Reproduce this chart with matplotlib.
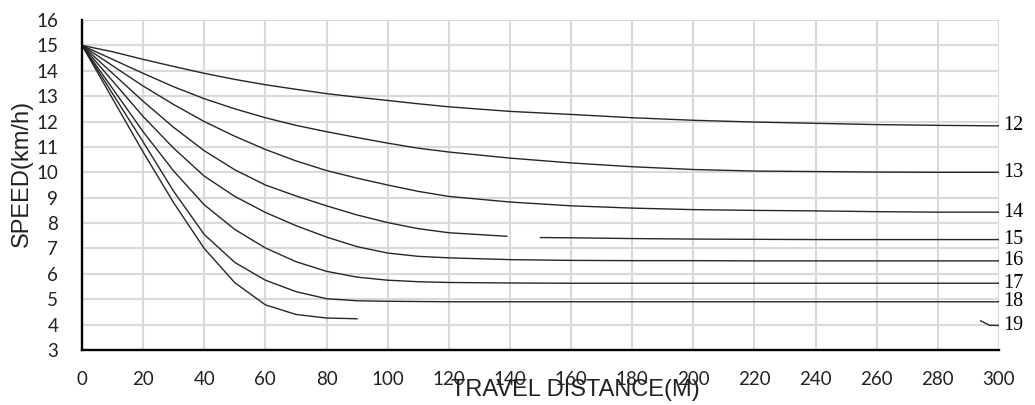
import matplotlib
matplotlib.use("Agg")
import matplotlib.pyplot as plt
import numpy as np

# distance along the track (m)
dist = [0, 10, 20, 30, 40, 50, 60, 70, 80, 90, 100, 110, 120, 140,
        160, 180, 200, 220, 240, 260, 280, 300]

# speed (km/h) for each curve
speed_12 = [15, 14.75, 14.45, 14.17, 13.9, 13.66, 13.45, 13.27, 13.1, 12.96, 12.83, 12.7,
            12.58, 12.4, 12.28, 12.15, 12.05, 11.98, 11.93, 11.88, 11.85, 11.83]
speed_13 = [15, 14.45, 13.9, 13.37, 12.9, 12.5, 12.15, 11.85, 11.6, 11.37, 11.15, 10.95,
            10.8, 10.56, 10.37, 10.22, 10.11, 10.05, 10.03, 10.01, 10.0, 10.0]
speed_14 = [15, 14.2, 13.4, 12.67, 12.0, 11.42, 10.9, 10.45, 10.07, 9.77, 9.5, 9.25,
            9.05, 8.83, 8.68, 8.59, 8.53, 8.5, 8.48, 8.45, 8.43, 8.43]
speed_16 = [15, 13.6, 12.2, 10.95, 9.85, 9.05, 8.42, 7.9, 7.45, 7.07, 6.82, 6.69,
            6.63, 6.56, 6.53, 6.52, 6.52, 6.51, 6.51, 6.51, 6.51, 6.51]
speed_17 = [15, 13.3, 11.6, 10.05, 8.72, 7.75, 7.02, 6.48, 6.1, 5.87, 5.75, 5.69,
            5.66, 5.64, 5.63, 5.63, 5.63, 5.63, 5.63, 5.63, 5.63, 5.63]
speed_18 = [15, 13.1, 11.2, 9.25, 7.55, 6.45, 5.75, 5.3, 5.02, 4.94, 4.92, 4.91,
            4.9, 4.9, 4.9, 4.9, 4.9, 4.9, 4.9, 4.9, 4.9, 4.9]

# curve 15 has a break between 140 and 150 m
dist_15 = [0, 10, 20, 30, 40, 50, 60, 70, 80, 90, 100, 110, 120, 139, 145,
           150, 160, 180, 200, 220, 240, 260, 280, 300]
speed_15 = [15, 13.9, 12.8, 11.77, 10.85, 10.1, 9.5, 9.07, 8.68, 8.32, 8.02, 7.78,
            7.62, 7.48, np.nan, 7.43, 7.42, 7.39, 7.37, 7.36, 7.35, 7.35, 7.35, 7.35]

# curve 19 stops at 90 m, plus the small piece near 300 m
dist_19 = [0, 10, 20, 30, 40, 50, 60, 70, 80, 90, 91, 294, 297, 300]
speed_19 = [15, 12.9, 10.8, 8.8, 7.0, 5.65, 4.78, 4.4, 4.26, 4.23, np.nan, 4.15, 3.97, 3.97]

curve_labels = ["12", "13", "14", "15", "16", "17", "18", "19"]
label_y = [11.83, 10.0, 8.43, 7.35, 6.51, 5.63, 4.9, 3.97]

fig = plt.figure(figsize=(10.35, 4.05), dpi=100)
ax = fig.add_axes([0.0792, 0.1358, 0.886, 0.8148])

series = [(dist, speed_12), (dist, speed_13), (dist, speed_14), (dist_15, speed_15),
          (dist, speed_16), (dist, speed_17), (dist, speed_18), (dist_19, speed_19)]
for xs, ys in series:
    ax.plot(xs, ys, color="#262626", linewidth=1.0)

for lab, yv in zip(curve_labels, label_y):
    ax.annotate(lab, xy=(300, yv), xytext=(3, 0), textcoords="offset points",
                va="center", ha="left", fontsize=14.5, family="Liberation Serif",
                annotation_clip=False)

ax.set_xlim(0, 300)
ax.set_ylim(3, 16)
ax.set_xticks(range(0, 301, 20))
ax.set_yticks(range(3, 17))
ax.grid(True, color="#d9d9d9", linewidth=1.5)
ax.set_axisbelow(True)

for side in ["top", "right"]:
    ax.spines[side].set_visible(False)
for side in ["left", "bottom"]:
    ax.spines[side].set_color("black")
    ax.spines[side].set_linewidth(1.7)

ax.tick_params(axis="both", length=0, labelsize=13.5, colors="#222222")
ax.tick_params(axis="y", pad=17)
ax.tick_params(axis="x", pad=15)
for t in ax.get_xticklabels() + ax.get_yticklabels():
    t.set_family("Lato")

fig.text(22 / 1035, 1 - 173 / 405, "SPEED(km/h)", rotation=90, ha="center", va="center",
         fontsize=17, family="Liberation Sans", color="#222222")
fig.text(575 / 1035, 1 - 390 / 405, "TRAVEL DISTANCE(M)", ha="center", va="center",
         fontsize=17, family="Liberation Sans", color="#222222")

fig.savefig("out.png", dpi=100)
